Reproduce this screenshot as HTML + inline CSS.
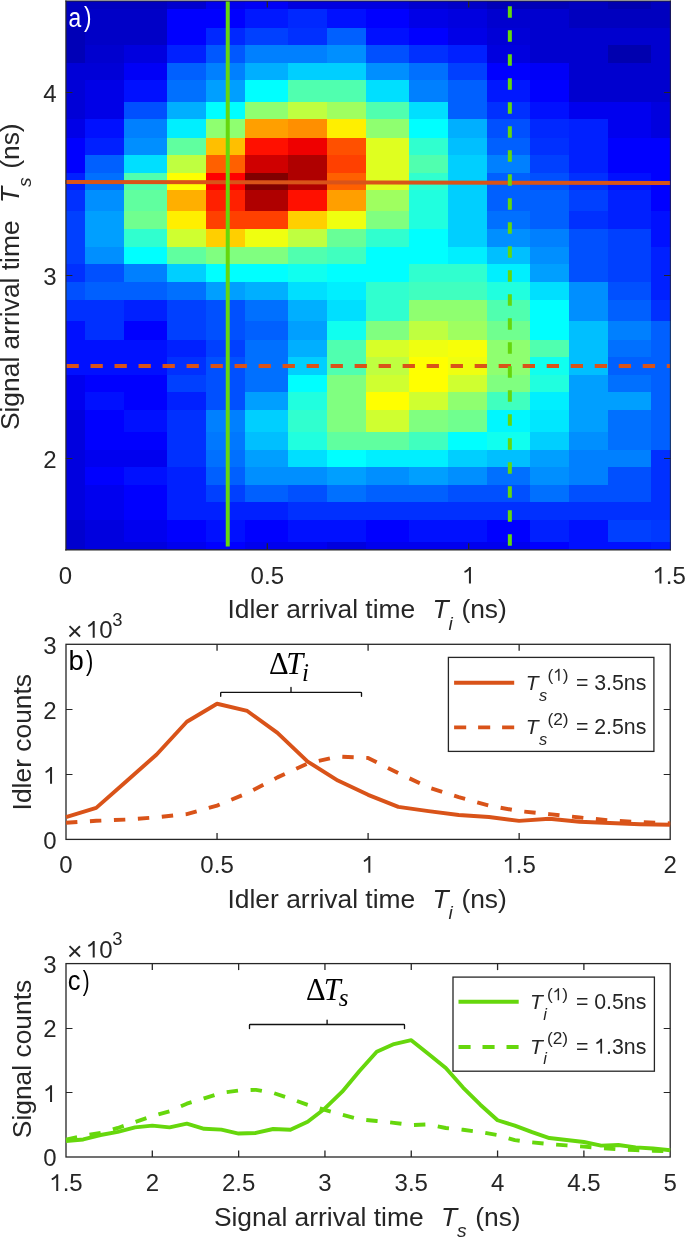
<!DOCTYPE html>
<html><head><meta charset="utf-8"><style>
html,body{margin:0;padding:0;background:#fff;width:685px;height:1238px;overflow:hidden}
svg{display:block;will-change:transform}
</style></head><body>
<svg width="685" height="1238" viewBox="0 0 685 1238">
<g shape-rendering="crispEdges">
<rect x="65.5" y="1" width="20.40" height="8.80" fill="#0000bf"/>
<rect x="85.3" y="1" width="39.30" height="8.80" fill="#0000bf"/>
<rect x="124" y="1" width="43.80" height="8.80" fill="#0000bf"/>
<rect x="167.2" y="1" width="39.30" height="8.80" fill="#0000cf"/>
<rect x="205.9" y="1" width="39.60" height="8.80" fill="#0000ef"/>
<rect x="244.9" y="1" width="44.00" height="8.80" fill="#0000f7"/>
<rect x="288.3" y="1" width="39.10" height="8.80" fill="#0000df"/>
<rect x="326.8" y="1" width="39.50" height="8.80" fill="#0000df"/>
<rect x="365.7" y="1" width="44.00" height="8.80" fill="#0000df"/>
<rect x="409.1" y="1" width="39.60" height="8.80" fill="#0000cf"/>
<rect x="448.1" y="1" width="39.60" height="8.80" fill="#0000c7"/>
<rect x="487.1" y="1" width="43.60" height="8.80" fill="#0000b7"/>
<rect x="530.1" y="1" width="39.50" height="8.80" fill="#0000b7"/>
<rect x="569" y="1" width="39.10" height="8.80" fill="#0000bf"/>
<rect x="607.5" y="1" width="43.70" height="8.80" fill="#0000af"/>
<rect x="650.6" y="1" width="20.20" height="8.80" fill="#0000bf"/>
<rect x="65.5" y="9.2" width="20.40" height="19.00" fill="#0000bf"/>
<rect x="85.3" y="9.2" width="39.30" height="19.00" fill="#0000c7"/>
<rect x="124" y="9.2" width="43.80" height="19.00" fill="#0000c7"/>
<rect x="167.2" y="9.2" width="39.30" height="19.00" fill="#0000ff"/>
<rect x="205.9" y="9.2" width="39.60" height="19.00" fill="#0000ff"/>
<rect x="244.9" y="9.2" width="44.00" height="19.00" fill="#0018ff"/>
<rect x="288.3" y="9.2" width="39.10" height="19.00" fill="#0028ff"/>
<rect x="326.8" y="9.2" width="39.50" height="19.00" fill="#0010ff"/>
<rect x="365.7" y="9.2" width="44.00" height="19.00" fill="#0000ff"/>
<rect x="409.1" y="9.2" width="39.60" height="19.00" fill="#0000e7"/>
<rect x="448.1" y="9.2" width="39.60" height="19.00" fill="#0000df"/>
<rect x="487.1" y="9.2" width="43.60" height="19.00" fill="#0000cf"/>
<rect x="530.1" y="9.2" width="39.50" height="19.00" fill="#0000cf"/>
<rect x="569" y="9.2" width="39.10" height="19.00" fill="#0000bf"/>
<rect x="607.5" y="9.2" width="43.70" height="19.00" fill="#0000bf"/>
<rect x="650.6" y="9.2" width="20.20" height="19.00" fill="#0000bf"/>
<rect x="65.5" y="27.6" width="20.40" height="17.50" fill="#0000b7"/>
<rect x="85.3" y="27.6" width="39.30" height="17.50" fill="#0000c7"/>
<rect x="124" y="27.6" width="43.80" height="17.50" fill="#0000c7"/>
<rect x="167.2" y="27.6" width="39.30" height="17.50" fill="#0000ff"/>
<rect x="205.9" y="27.6" width="39.60" height="17.50" fill="#0028ff"/>
<rect x="244.9" y="27.6" width="44.00" height="17.50" fill="#0040ff"/>
<rect x="288.3" y="27.6" width="39.10" height="17.50" fill="#0030ff"/>
<rect x="326.8" y="27.6" width="39.50" height="17.50" fill="#0060ff"/>
<rect x="365.7" y="27.6" width="44.00" height="17.50" fill="#0010ff"/>
<rect x="409.1" y="27.6" width="39.60" height="17.50" fill="#0000ff"/>
<rect x="448.1" y="27.6" width="39.60" height="17.50" fill="#0000e7"/>
<rect x="487.1" y="27.6" width="43.60" height="17.50" fill="#0000d7"/>
<rect x="530.1" y="27.6" width="39.50" height="17.50" fill="#0000cf"/>
<rect x="569" y="27.6" width="39.10" height="17.50" fill="#0000cf"/>
<rect x="607.5" y="27.6" width="43.70" height="17.50" fill="#0000cf"/>
<rect x="650.6" y="27.6" width="20.20" height="17.50" fill="#0000cf"/>
<rect x="65.5" y="44.5" width="20.40" height="19.00" fill="#0000b7"/>
<rect x="85.3" y="44.5" width="39.30" height="19.00" fill="#0000cf"/>
<rect x="124" y="44.5" width="43.80" height="19.00" fill="#0000df"/>
<rect x="167.2" y="44.5" width="39.30" height="19.00" fill="#0020ff"/>
<rect x="205.9" y="44.5" width="39.60" height="19.00" fill="#0058ff"/>
<rect x="244.9" y="44.5" width="44.00" height="19.00" fill="#0080ff"/>
<rect x="288.3" y="44.5" width="39.10" height="19.00" fill="#0080ff"/>
<rect x="326.8" y="44.5" width="39.50" height="19.00" fill="#008fff"/>
<rect x="365.7" y="44.5" width="44.00" height="19.00" fill="#0050ff"/>
<rect x="409.1" y="44.5" width="39.60" height="19.00" fill="#0030ff"/>
<rect x="448.1" y="44.5" width="39.60" height="19.00" fill="#0020ff"/>
<rect x="487.1" y="44.5" width="43.60" height="19.00" fill="#0000df"/>
<rect x="530.1" y="44.5" width="39.50" height="19.00" fill="#0000cf"/>
<rect x="569" y="44.5" width="39.10" height="19.00" fill="#0000cf"/>
<rect x="607.5" y="44.5" width="43.70" height="19.00" fill="#0000af"/>
<rect x="650.6" y="44.5" width="20.20" height="19.00" fill="#0000cf"/>
<rect x="65.5" y="62.9" width="20.40" height="17.50" fill="#0000d7"/>
<rect x="85.3" y="62.9" width="39.30" height="17.50" fill="#0000d7"/>
<rect x="124" y="62.9" width="43.80" height="17.50" fill="#0000f7"/>
<rect x="167.2" y="62.9" width="39.30" height="17.50" fill="#0060ff"/>
<rect x="205.9" y="62.9" width="39.60" height="17.50" fill="#0080ff"/>
<rect x="244.9" y="62.9" width="44.00" height="17.50" fill="#00afff"/>
<rect x="288.3" y="62.9" width="39.10" height="17.50" fill="#00cfff"/>
<rect x="326.8" y="62.9" width="39.50" height="17.50" fill="#00cfff"/>
<rect x="365.7" y="62.9" width="44.00" height="17.50" fill="#008fff"/>
<rect x="409.1" y="62.9" width="39.60" height="17.50" fill="#0070ff"/>
<rect x="448.1" y="62.9" width="39.60" height="17.50" fill="#0040ff"/>
<rect x="487.1" y="62.9" width="43.60" height="17.50" fill="#0000ff"/>
<rect x="530.1" y="62.9" width="39.50" height="17.50" fill="#0000f7"/>
<rect x="569" y="62.9" width="39.10" height="17.50" fill="#0000cf"/>
<rect x="607.5" y="62.9" width="43.70" height="17.50" fill="#0000cf"/>
<rect x="650.6" y="62.9" width="20.20" height="17.50" fill="#0000cf"/>
<rect x="65.5" y="79.8" width="20.40" height="22.90" fill="#0000d7"/>
<rect x="85.3" y="79.8" width="39.30" height="22.90" fill="#0000e7"/>
<rect x="124" y="79.8" width="43.80" height="22.90" fill="#0010ff"/>
<rect x="167.2" y="79.8" width="39.30" height="22.90" fill="#0070ff"/>
<rect x="205.9" y="79.8" width="39.60" height="22.90" fill="#009fff"/>
<rect x="244.9" y="79.8" width="44.00" height="22.90" fill="#00ffff"/>
<rect x="288.3" y="79.8" width="39.10" height="22.90" fill="#50ffaf"/>
<rect x="326.8" y="79.8" width="39.50" height="22.90" fill="#50ffaf"/>
<rect x="365.7" y="79.8" width="44.00" height="22.90" fill="#00dfff"/>
<rect x="409.1" y="79.8" width="39.60" height="22.90" fill="#0080ff"/>
<rect x="448.1" y="79.8" width="39.60" height="22.90" fill="#0060ff"/>
<rect x="487.1" y="79.8" width="43.60" height="22.90" fill="#0018ff"/>
<rect x="530.1" y="79.8" width="39.50" height="22.90" fill="#0000ff"/>
<rect x="569" y="79.8" width="39.10" height="22.90" fill="#0000cf"/>
<rect x="607.5" y="79.8" width="43.70" height="22.90" fill="#0000cf"/>
<rect x="650.6" y="79.8" width="20.20" height="22.90" fill="#0000cf"/>
<rect x="65.5" y="102.1" width="20.40" height="17.40" fill="#0000d7"/>
<rect x="85.3" y="102.1" width="39.30" height="17.40" fill="#0000e7"/>
<rect x="124" y="102.1" width="43.80" height="17.40" fill="#0050ff"/>
<rect x="167.2" y="102.1" width="39.30" height="17.40" fill="#00afff"/>
<rect x="205.9" y="102.1" width="39.60" height="17.40" fill="#00ffff"/>
<rect x="244.9" y="102.1" width="44.00" height="17.40" fill="#8fff70"/>
<rect x="288.3" y="102.1" width="39.10" height="17.40" fill="#bfff40"/>
<rect x="326.8" y="102.1" width="39.50" height="17.40" fill="#9fff60"/>
<rect x="365.7" y="102.1" width="44.00" height="17.40" fill="#50ffaf"/>
<rect x="409.1" y="102.1" width="39.60" height="17.40" fill="#00dfff"/>
<rect x="448.1" y="102.1" width="39.60" height="17.40" fill="#0060ff"/>
<rect x="487.1" y="102.1" width="43.60" height="17.40" fill="#0030ff"/>
<rect x="530.1" y="102.1" width="39.50" height="17.40" fill="#0010ff"/>
<rect x="569" y="102.1" width="39.10" height="17.40" fill="#0000ef"/>
<rect x="607.5" y="102.1" width="43.70" height="17.40" fill="#0000ef"/>
<rect x="650.6" y="102.1" width="20.20" height="17.40" fill="#0000df"/>
<rect x="65.5" y="118.9" width="20.40" height="19.50" fill="#0000e7"/>
<rect x="85.3" y="118.9" width="39.30" height="19.50" fill="#0010ff"/>
<rect x="124" y="118.9" width="43.80" height="19.50" fill="#0080ff"/>
<rect x="167.2" y="118.9" width="39.30" height="19.50" fill="#00efff"/>
<rect x="205.9" y="118.9" width="39.60" height="19.50" fill="#8fff70"/>
<rect x="244.9" y="118.9" width="44.00" height="19.50" fill="#ff9f00"/>
<rect x="288.3" y="118.9" width="39.10" height="19.50" fill="#ff8f00"/>
<rect x="326.8" y="118.9" width="39.50" height="19.50" fill="#ffef00"/>
<rect x="365.7" y="118.9" width="44.00" height="19.50" fill="#8fff70"/>
<rect x="409.1" y="118.9" width="39.60" height="19.50" fill="#00ffff"/>
<rect x="448.1" y="118.9" width="39.60" height="19.50" fill="#00afff"/>
<rect x="487.1" y="118.9" width="43.60" height="19.50" fill="#0050ff"/>
<rect x="530.1" y="118.9" width="39.50" height="19.50" fill="#0028ff"/>
<rect x="569" y="118.9" width="39.10" height="19.50" fill="#0020ff"/>
<rect x="607.5" y="118.9" width="43.70" height="19.50" fill="#0000ef"/>
<rect x="650.6" y="118.9" width="20.20" height="19.50" fill="#0000df"/>
<rect x="65.5" y="137.8" width="20.40" height="17.60" fill="#0000ff"/>
<rect x="85.3" y="137.8" width="39.30" height="17.60" fill="#0020ff"/>
<rect x="124" y="137.8" width="43.80" height="17.60" fill="#008fff"/>
<rect x="167.2" y="137.8" width="39.30" height="17.60" fill="#60ff9f"/>
<rect x="205.9" y="137.8" width="39.60" height="17.60" fill="#ffbf00"/>
<rect x="244.9" y="137.8" width="44.00" height="17.60" fill="#ff1000"/>
<rect x="288.3" y="137.8" width="39.10" height="17.60" fill="#ef0000"/>
<rect x="326.8" y="137.8" width="39.50" height="17.60" fill="#ff5000"/>
<rect x="365.7" y="137.8" width="44.00" height="17.60" fill="#dfff20"/>
<rect x="409.1" y="137.8" width="39.60" height="17.60" fill="#30ffcf"/>
<rect x="448.1" y="137.8" width="39.60" height="17.60" fill="#00bfff"/>
<rect x="487.1" y="137.8" width="43.60" height="17.60" fill="#0060ff"/>
<rect x="530.1" y="137.8" width="39.50" height="17.60" fill="#0030ff"/>
<rect x="569" y="137.8" width="39.10" height="17.60" fill="#0020ff"/>
<rect x="607.5" y="137.8" width="43.70" height="17.60" fill="#0000ff"/>
<rect x="650.6" y="137.8" width="20.20" height="17.60" fill="#0000ff"/>
<rect x="65.5" y="154.8" width="20.40" height="18.50" fill="#0000ff"/>
<rect x="85.3" y="154.8" width="39.30" height="18.50" fill="#0060ff"/>
<rect x="124" y="154.8" width="43.80" height="18.50" fill="#00dfff"/>
<rect x="167.2" y="154.8" width="39.30" height="18.50" fill="#bfff40"/>
<rect x="205.9" y="154.8" width="39.60" height="18.50" fill="#ff6000"/>
<rect x="244.9" y="154.8" width="44.00" height="18.50" fill="#cf0000"/>
<rect x="288.3" y="154.8" width="39.10" height="18.50" fill="#af0000"/>
<rect x="326.8" y="154.8" width="39.50" height="18.50" fill="#ff4000"/>
<rect x="365.7" y="154.8" width="44.00" height="18.50" fill="#dfff20"/>
<rect x="409.1" y="154.8" width="39.60" height="18.50" fill="#50ffaf"/>
<rect x="448.1" y="154.8" width="39.60" height="18.50" fill="#00cfff"/>
<rect x="487.1" y="154.8" width="43.60" height="18.50" fill="#0080ff"/>
<rect x="530.1" y="154.8" width="39.50" height="18.50" fill="#0040ff"/>
<rect x="569" y="154.8" width="39.10" height="18.50" fill="#0020ff"/>
<rect x="607.5" y="154.8" width="43.70" height="18.50" fill="#0000ff"/>
<rect x="650.6" y="154.8" width="20.20" height="18.50" fill="#0000ff"/>
<rect x="65.5" y="172.7" width="20.40" height="17.60" fill="#0020ff"/>
<rect x="85.3" y="172.7" width="39.30" height="17.60" fill="#0070ff"/>
<rect x="124" y="172.7" width="43.80" height="17.60" fill="#50ffaf"/>
<rect x="167.2" y="172.7" width="39.30" height="17.60" fill="#ffff00"/>
<rect x="205.9" y="172.7" width="39.60" height="17.60" fill="#ff0000"/>
<rect x="244.9" y="172.7" width="44.00" height="17.60" fill="#800000"/>
<rect x="288.3" y="172.7" width="39.10" height="17.60" fill="#af0000"/>
<rect x="326.8" y="172.7" width="39.50" height="17.60" fill="#ff6000"/>
<rect x="365.7" y="172.7" width="44.00" height="17.60" fill="#dfff20"/>
<rect x="409.1" y="172.7" width="39.60" height="17.60" fill="#30ffcf"/>
<rect x="448.1" y="172.7" width="39.60" height="17.60" fill="#00cfff"/>
<rect x="487.1" y="172.7" width="43.60" height="17.60" fill="#0060ff"/>
<rect x="530.1" y="172.7" width="39.50" height="17.60" fill="#0050ff"/>
<rect x="569" y="172.7" width="39.10" height="17.60" fill="#0030ff"/>
<rect x="607.5" y="172.7" width="43.70" height="17.60" fill="#0010ff"/>
<rect x="650.6" y="172.7" width="20.20" height="17.60" fill="#0000ff"/>
<rect x="65.5" y="189.7" width="20.40" height="22.10" fill="#0030ff"/>
<rect x="85.3" y="189.7" width="39.30" height="22.10" fill="#008fff"/>
<rect x="124" y="189.7" width="43.80" height="22.10" fill="#60ff9f"/>
<rect x="167.2" y="189.7" width="39.30" height="22.10" fill="#ffaf00"/>
<rect x="205.9" y="189.7" width="39.60" height="22.10" fill="#ff2000"/>
<rect x="244.9" y="189.7" width="44.00" height="22.10" fill="#af0000"/>
<rect x="288.3" y="189.7" width="39.10" height="22.10" fill="#ff1000"/>
<rect x="326.8" y="189.7" width="39.50" height="22.10" fill="#ff9f00"/>
<rect x="365.7" y="189.7" width="44.00" height="22.10" fill="#9fff60"/>
<rect x="409.1" y="189.7" width="39.60" height="22.10" fill="#20ffdf"/>
<rect x="448.1" y="189.7" width="39.60" height="22.10" fill="#00cfff"/>
<rect x="487.1" y="189.7" width="43.60" height="22.10" fill="#0060ff"/>
<rect x="530.1" y="189.7" width="39.50" height="22.10" fill="#0060ff"/>
<rect x="569" y="189.7" width="39.10" height="22.10" fill="#0040ff"/>
<rect x="607.5" y="189.7" width="43.70" height="22.10" fill="#0020ff"/>
<rect x="650.6" y="189.7" width="20.20" height="22.10" fill="#0000ff"/>
<rect x="65.5" y="211.2" width="20.40" height="18.70" fill="#0040ff"/>
<rect x="85.3" y="211.2" width="39.30" height="18.70" fill="#009fff"/>
<rect x="124" y="211.2" width="43.80" height="18.70" fill="#70ff8f"/>
<rect x="167.2" y="211.2" width="39.30" height="18.70" fill="#ffef00"/>
<rect x="205.9" y="211.2" width="39.60" height="18.70" fill="#ff4000"/>
<rect x="244.9" y="211.2" width="44.00" height="18.70" fill="#ff4000"/>
<rect x="288.3" y="211.2" width="39.10" height="18.70" fill="#ffcf00"/>
<rect x="326.8" y="211.2" width="39.50" height="18.70" fill="#efff10"/>
<rect x="365.7" y="211.2" width="44.00" height="18.70" fill="#80ff80"/>
<rect x="409.1" y="211.2" width="39.60" height="18.70" fill="#20ffdf"/>
<rect x="448.1" y="211.2" width="39.60" height="18.70" fill="#00cfff"/>
<rect x="487.1" y="211.2" width="43.60" height="18.70" fill="#0070ff"/>
<rect x="530.1" y="211.2" width="39.50" height="18.70" fill="#0060ff"/>
<rect x="569" y="211.2" width="39.10" height="18.70" fill="#0030ff"/>
<rect x="607.5" y="211.2" width="43.70" height="18.70" fill="#0020ff"/>
<rect x="650.6" y="211.2" width="20.20" height="18.70" fill="#0010ff"/>
<rect x="65.5" y="229.3" width="20.40" height="18.10" fill="#0040ff"/>
<rect x="85.3" y="229.3" width="39.30" height="18.10" fill="#009fff"/>
<rect x="124" y="229.3" width="43.80" height="18.10" fill="#30ffcf"/>
<rect x="167.2" y="229.3" width="39.30" height="18.10" fill="#cfff30"/>
<rect x="205.9" y="229.3" width="39.60" height="18.10" fill="#ffcf00"/>
<rect x="244.9" y="229.3" width="44.00" height="18.10" fill="#efff10"/>
<rect x="288.3" y="229.3" width="39.10" height="18.10" fill="#bfff40"/>
<rect x="326.8" y="229.3" width="39.50" height="18.10" fill="#68ff97"/>
<rect x="365.7" y="229.3" width="44.00" height="18.10" fill="#30ffcf"/>
<rect x="409.1" y="229.3" width="39.60" height="18.10" fill="#00ffff"/>
<rect x="448.1" y="229.3" width="39.60" height="18.10" fill="#00cfff"/>
<rect x="487.1" y="229.3" width="43.60" height="18.10" fill="#008fff"/>
<rect x="530.1" y="229.3" width="39.50" height="18.10" fill="#0080ff"/>
<rect x="569" y="229.3" width="39.10" height="18.10" fill="#0050ff"/>
<rect x="607.5" y="229.3" width="43.70" height="18.10" fill="#0040ff"/>
<rect x="650.6" y="229.3" width="20.20" height="18.10" fill="#0010ff"/>
<rect x="65.5" y="246.8" width="20.40" height="18.20" fill="#0040ff"/>
<rect x="85.3" y="246.8" width="39.30" height="18.20" fill="#008fff"/>
<rect x="124" y="246.8" width="43.80" height="18.20" fill="#00ffff"/>
<rect x="167.2" y="246.8" width="39.30" height="18.20" fill="#60ff9f"/>
<rect x="205.9" y="246.8" width="39.60" height="18.20" fill="#80ff80"/>
<rect x="244.9" y="246.8" width="44.00" height="18.20" fill="#80ff80"/>
<rect x="288.3" y="246.8" width="39.10" height="18.20" fill="#50ffaf"/>
<rect x="326.8" y="246.8" width="39.50" height="18.20" fill="#40ffbf"/>
<rect x="365.7" y="246.8" width="44.00" height="18.20" fill="#00ffff"/>
<rect x="409.1" y="246.8" width="39.60" height="18.20" fill="#00ffff"/>
<rect x="448.1" y="246.8" width="39.60" height="18.20" fill="#00efff"/>
<rect x="487.1" y="246.8" width="43.60" height="18.20" fill="#00bfff"/>
<rect x="530.1" y="246.8" width="39.50" height="18.20" fill="#008fff"/>
<rect x="569" y="246.8" width="39.10" height="18.20" fill="#0050ff"/>
<rect x="607.5" y="246.8" width="43.70" height="18.20" fill="#0040ff"/>
<rect x="650.6" y="246.8" width="20.20" height="18.20" fill="#0020ff"/>
<rect x="65.5" y="264.4" width="20.40" height="18.30" fill="#0030ff"/>
<rect x="85.3" y="264.4" width="39.30" height="18.30" fill="#0050ff"/>
<rect x="124" y="264.4" width="43.80" height="18.30" fill="#0080ff"/>
<rect x="167.2" y="264.4" width="39.30" height="18.30" fill="#00cfff"/>
<rect x="205.9" y="264.4" width="39.60" height="18.30" fill="#00ffff"/>
<rect x="244.9" y="264.4" width="44.00" height="18.30" fill="#00ffff"/>
<rect x="288.3" y="264.4" width="39.10" height="18.30" fill="#10ffef"/>
<rect x="326.8" y="264.4" width="39.50" height="18.30" fill="#00ffff"/>
<rect x="365.7" y="264.4" width="44.00" height="18.30" fill="#00ffff"/>
<rect x="409.1" y="264.4" width="39.60" height="18.30" fill="#30ffcf"/>
<rect x="448.1" y="264.4" width="39.60" height="18.30" fill="#30ffcf"/>
<rect x="487.1" y="264.4" width="43.60" height="18.30" fill="#00efff"/>
<rect x="530.1" y="264.4" width="39.50" height="18.30" fill="#009fff"/>
<rect x="569" y="264.4" width="39.10" height="18.30" fill="#0050ff"/>
<rect x="607.5" y="264.4" width="43.70" height="18.30" fill="#0040ff"/>
<rect x="650.6" y="264.4" width="20.20" height="18.30" fill="#0020ff"/>
<rect x="65.5" y="282.1" width="20.40" height="18.20" fill="#0050ff"/>
<rect x="85.3" y="282.1" width="39.30" height="18.20" fill="#0060ff"/>
<rect x="124" y="282.1" width="43.80" height="18.20" fill="#0060ff"/>
<rect x="167.2" y="282.1" width="39.30" height="18.20" fill="#0070ff"/>
<rect x="205.9" y="282.1" width="39.60" height="18.20" fill="#009fff"/>
<rect x="244.9" y="282.1" width="44.00" height="18.20" fill="#00afff"/>
<rect x="288.3" y="282.1" width="39.10" height="18.20" fill="#00dfff"/>
<rect x="326.8" y="282.1" width="39.50" height="18.20" fill="#00efff"/>
<rect x="365.7" y="282.1" width="44.00" height="18.20" fill="#30ffcf"/>
<rect x="409.1" y="282.1" width="39.60" height="18.20" fill="#40ffbf"/>
<rect x="448.1" y="282.1" width="39.60" height="18.20" fill="#40ffbf"/>
<rect x="487.1" y="282.1" width="43.60" height="18.20" fill="#20ffdf"/>
<rect x="530.1" y="282.1" width="39.50" height="18.20" fill="#00dfff"/>
<rect x="569" y="282.1" width="39.10" height="18.20" fill="#008fff"/>
<rect x="607.5" y="282.1" width="43.70" height="18.20" fill="#0050ff"/>
<rect x="650.6" y="282.1" width="20.20" height="18.20" fill="#0020ff"/>
<rect x="65.5" y="299.7" width="20.40" height="21.80" fill="#0030ff"/>
<rect x="85.3" y="299.7" width="39.30" height="21.80" fill="#0030ff"/>
<rect x="124" y="299.7" width="43.80" height="21.80" fill="#0020ff"/>
<rect x="167.2" y="299.7" width="39.30" height="21.80" fill="#0040ff"/>
<rect x="205.9" y="299.7" width="39.60" height="21.80" fill="#0050ff"/>
<rect x="244.9" y="299.7" width="44.00" height="21.80" fill="#0070ff"/>
<rect x="288.3" y="299.7" width="39.10" height="21.80" fill="#00afff"/>
<rect x="326.8" y="299.7" width="39.50" height="21.80" fill="#00dfff"/>
<rect x="365.7" y="299.7" width="44.00" height="21.80" fill="#30ffcf"/>
<rect x="409.1" y="299.7" width="39.60" height="21.80" fill="#8fff70"/>
<rect x="448.1" y="299.7" width="39.60" height="21.80" fill="#8fff70"/>
<rect x="487.1" y="299.7" width="43.60" height="21.80" fill="#50ffaf"/>
<rect x="530.1" y="299.7" width="39.50" height="21.80" fill="#00ffff"/>
<rect x="569" y="299.7" width="39.10" height="21.80" fill="#008fff"/>
<rect x="607.5" y="299.7" width="43.70" height="21.80" fill="#0060ff"/>
<rect x="650.6" y="299.7" width="20.20" height="21.80" fill="#0030ff"/>
<rect x="65.5" y="320.9" width="20.40" height="19.30" fill="#0010ff"/>
<rect x="85.3" y="320.9" width="39.30" height="19.30" fill="#0030ff"/>
<rect x="124" y="320.9" width="43.80" height="19.30" fill="#0000ff"/>
<rect x="167.2" y="320.9" width="39.30" height="19.30" fill="#0040ff"/>
<rect x="205.9" y="320.9" width="39.60" height="19.30" fill="#0050ff"/>
<rect x="244.9" y="320.9" width="44.00" height="19.30" fill="#0060ff"/>
<rect x="288.3" y="320.9" width="39.10" height="19.30" fill="#009fff"/>
<rect x="326.8" y="320.9" width="39.50" height="19.30" fill="#10ffef"/>
<rect x="365.7" y="320.9" width="44.00" height="19.30" fill="#80ff80"/>
<rect x="409.1" y="320.9" width="39.60" height="19.30" fill="#bfff40"/>
<rect x="448.1" y="320.9" width="39.60" height="19.30" fill="#9fff60"/>
<rect x="487.1" y="320.9" width="43.60" height="19.30" fill="#70ff8f"/>
<rect x="530.1" y="320.9" width="39.50" height="19.30" fill="#00ffff"/>
<rect x="569" y="320.9" width="39.10" height="19.30" fill="#00bfff"/>
<rect x="607.5" y="320.9" width="43.70" height="19.30" fill="#0080ff"/>
<rect x="650.6" y="320.9" width="20.20" height="19.30" fill="#0060ff"/>
<rect x="65.5" y="339.6" width="20.40" height="18.30" fill="#0010ff"/>
<rect x="85.3" y="339.6" width="39.30" height="18.30" fill="#0010ff"/>
<rect x="124" y="339.6" width="43.80" height="18.30" fill="#0010ff"/>
<rect x="167.2" y="339.6" width="39.30" height="18.30" fill="#0020ff"/>
<rect x="205.9" y="339.6" width="39.60" height="18.30" fill="#0040ff"/>
<rect x="244.9" y="339.6" width="44.00" height="18.30" fill="#0070ff"/>
<rect x="288.3" y="339.6" width="39.10" height="18.30" fill="#00afff"/>
<rect x="326.8" y="339.6" width="39.50" height="18.30" fill="#50ffaf"/>
<rect x="365.7" y="339.6" width="44.00" height="18.30" fill="#d7ff28"/>
<rect x="409.1" y="339.6" width="39.60" height="18.30" fill="#efff10"/>
<rect x="448.1" y="339.6" width="39.60" height="18.30" fill="#f7ff08"/>
<rect x="487.1" y="339.6" width="43.60" height="18.30" fill="#8fff70"/>
<rect x="530.1" y="339.6" width="39.50" height="18.30" fill="#50ffaf"/>
<rect x="569" y="339.6" width="39.10" height="18.30" fill="#00bfff"/>
<rect x="607.5" y="339.6" width="43.70" height="18.30" fill="#0070ff"/>
<rect x="650.6" y="339.6" width="20.20" height="18.30" fill="#0060ff"/>
<rect x="65.5" y="357.3" width="20.40" height="17.90" fill="#0010ff"/>
<rect x="85.3" y="357.3" width="39.30" height="17.90" fill="#0010ff"/>
<rect x="124" y="357.3" width="43.80" height="17.90" fill="#0010ff"/>
<rect x="167.2" y="357.3" width="39.30" height="17.90" fill="#0030ff"/>
<rect x="205.9" y="357.3" width="39.60" height="17.90" fill="#0050ff"/>
<rect x="244.9" y="357.3" width="44.00" height="17.90" fill="#0070ff"/>
<rect x="288.3" y="357.3" width="39.10" height="17.90" fill="#00cfff"/>
<rect x="326.8" y="357.3" width="39.50" height="17.90" fill="#50ffaf"/>
<rect x="365.7" y="357.3" width="44.00" height="17.90" fill="#bfff40"/>
<rect x="409.1" y="357.3" width="39.60" height="17.90" fill="#ffff00"/>
<rect x="448.1" y="357.3" width="39.60" height="17.90" fill="#efff10"/>
<rect x="487.1" y="357.3" width="43.60" height="17.90" fill="#8fff70"/>
<rect x="530.1" y="357.3" width="39.50" height="17.90" fill="#10ffef"/>
<rect x="569" y="357.3" width="39.10" height="17.90" fill="#00bfff"/>
<rect x="607.5" y="357.3" width="43.70" height="17.90" fill="#0060ff"/>
<rect x="650.6" y="357.3" width="20.20" height="17.90" fill="#0060ff"/>
<rect x="65.5" y="374.6" width="20.40" height="17.50" fill="#0000ef"/>
<rect x="85.3" y="374.6" width="39.30" height="17.50" fill="#0000ff"/>
<rect x="124" y="374.6" width="43.80" height="17.50" fill="#0000ff"/>
<rect x="167.2" y="374.6" width="39.30" height="17.50" fill="#0040ff"/>
<rect x="205.9" y="374.6" width="39.60" height="17.50" fill="#0050ff"/>
<rect x="244.9" y="374.6" width="44.00" height="17.50" fill="#0070ff"/>
<rect x="288.3" y="374.6" width="39.10" height="17.50" fill="#00ffff"/>
<rect x="326.8" y="374.6" width="39.50" height="17.50" fill="#80ff80"/>
<rect x="365.7" y="374.6" width="44.00" height="17.50" fill="#cfff30"/>
<rect x="409.1" y="374.6" width="39.60" height="17.50" fill="#ffff00"/>
<rect x="448.1" y="374.6" width="39.60" height="17.50" fill="#cfff30"/>
<rect x="487.1" y="374.6" width="43.60" height="17.50" fill="#80ff80"/>
<rect x="530.1" y="374.6" width="39.50" height="17.50" fill="#20ffdf"/>
<rect x="569" y="374.6" width="39.10" height="17.50" fill="#009fff"/>
<rect x="607.5" y="374.6" width="43.70" height="17.50" fill="#0070ff"/>
<rect x="650.6" y="374.6" width="20.20" height="17.50" fill="#0060ff"/>
<rect x="65.5" y="391.5" width="20.40" height="19.00" fill="#0000ef"/>
<rect x="85.3" y="391.5" width="39.30" height="19.00" fill="#0010ff"/>
<rect x="124" y="391.5" width="43.80" height="19.00" fill="#0000ff"/>
<rect x="167.2" y="391.5" width="39.30" height="19.00" fill="#0020ff"/>
<rect x="205.9" y="391.5" width="39.60" height="19.00" fill="#0050ff"/>
<rect x="244.9" y="391.5" width="44.00" height="19.00" fill="#009fff"/>
<rect x="288.3" y="391.5" width="39.10" height="19.00" fill="#20ffdf"/>
<rect x="326.8" y="391.5" width="39.50" height="19.00" fill="#80ff80"/>
<rect x="365.7" y="391.5" width="44.00" height="19.00" fill="#ffff00"/>
<rect x="409.1" y="391.5" width="39.60" height="19.00" fill="#cfff30"/>
<rect x="448.1" y="391.5" width="39.60" height="19.00" fill="#8fff70"/>
<rect x="487.1" y="391.5" width="43.60" height="19.00" fill="#40ffbf"/>
<rect x="530.1" y="391.5" width="39.50" height="19.00" fill="#00efff"/>
<rect x="569" y="391.5" width="39.10" height="19.00" fill="#009fff"/>
<rect x="607.5" y="391.5" width="43.70" height="19.00" fill="#009fff"/>
<rect x="650.6" y="391.5" width="20.20" height="19.00" fill="#0060ff"/>
<rect x="65.5" y="409.9" width="20.40" height="22.30" fill="#0000df"/>
<rect x="85.3" y="409.9" width="39.30" height="22.30" fill="#0000ff"/>
<rect x="124" y="409.9" width="43.80" height="22.30" fill="#0010ff"/>
<rect x="167.2" y="409.9" width="39.30" height="22.30" fill="#0030ff"/>
<rect x="205.9" y="409.9" width="39.60" height="22.30" fill="#0080ff"/>
<rect x="244.9" y="409.9" width="44.00" height="22.30" fill="#00cfff"/>
<rect x="288.3" y="409.9" width="39.10" height="22.30" fill="#30ffcf"/>
<rect x="326.8" y="409.9" width="39.50" height="22.30" fill="#80ff80"/>
<rect x="365.7" y="409.9" width="44.00" height="22.30" fill="#cfff30"/>
<rect x="409.1" y="409.9" width="39.60" height="22.30" fill="#80ff80"/>
<rect x="448.1" y="409.9" width="39.60" height="22.30" fill="#70ff8f"/>
<rect x="487.1" y="409.9" width="43.60" height="22.30" fill="#00f7ff"/>
<rect x="530.1" y="409.9" width="39.50" height="22.30" fill="#00e7ff"/>
<rect x="569" y="409.9" width="39.10" height="22.30" fill="#009fff"/>
<rect x="607.5" y="409.9" width="43.70" height="22.30" fill="#0070ff"/>
<rect x="650.6" y="409.9" width="20.20" height="22.30" fill="#0060ff"/>
<rect x="65.5" y="431.6" width="20.40" height="18.80" fill="#0000df"/>
<rect x="85.3" y="431.6" width="39.30" height="18.80" fill="#0000ff"/>
<rect x="124" y="431.6" width="43.80" height="18.80" fill="#0000ff"/>
<rect x="167.2" y="431.6" width="39.30" height="18.80" fill="#0030ff"/>
<rect x="205.9" y="431.6" width="39.60" height="18.80" fill="#0078ff"/>
<rect x="244.9" y="431.6" width="44.00" height="18.80" fill="#00bfff"/>
<rect x="288.3" y="431.6" width="39.10" height="18.80" fill="#20ffdf"/>
<rect x="326.8" y="431.6" width="39.50" height="18.80" fill="#60ff9f"/>
<rect x="365.7" y="431.6" width="44.00" height="18.80" fill="#60ff9f"/>
<rect x="409.1" y="431.6" width="39.60" height="18.80" fill="#40ffbf"/>
<rect x="448.1" y="431.6" width="39.60" height="18.80" fill="#00ffff"/>
<rect x="487.1" y="431.6" width="43.60" height="18.80" fill="#10ffef"/>
<rect x="530.1" y="431.6" width="39.50" height="18.80" fill="#00cfff"/>
<rect x="569" y="431.6" width="39.10" height="18.80" fill="#008fff"/>
<rect x="607.5" y="431.6" width="43.70" height="18.80" fill="#0070ff"/>
<rect x="650.6" y="431.6" width="20.20" height="18.80" fill="#0060ff"/>
<rect x="65.5" y="449.8" width="20.40" height="17.50" fill="#0000df"/>
<rect x="85.3" y="449.8" width="39.30" height="17.50" fill="#0000ef"/>
<rect x="124" y="449.8" width="43.80" height="17.50" fill="#0000ef"/>
<rect x="167.2" y="449.8" width="39.30" height="17.50" fill="#0030ff"/>
<rect x="205.9" y="449.8" width="39.60" height="17.50" fill="#0070ff"/>
<rect x="244.9" y="449.8" width="44.00" height="17.50" fill="#009fff"/>
<rect x="288.3" y="449.8" width="39.10" height="17.50" fill="#00dfff"/>
<rect x="326.8" y="449.8" width="39.50" height="17.50" fill="#00ffff"/>
<rect x="365.7" y="449.8" width="44.00" height="17.50" fill="#00efff"/>
<rect x="409.1" y="449.8" width="39.60" height="17.50" fill="#00efff"/>
<rect x="448.1" y="449.8" width="39.60" height="17.50" fill="#00cfff"/>
<rect x="487.1" y="449.8" width="43.60" height="17.50" fill="#00bfff"/>
<rect x="530.1" y="449.8" width="39.50" height="17.50" fill="#009fff"/>
<rect x="569" y="449.8" width="39.10" height="17.50" fill="#0080ff"/>
<rect x="607.5" y="449.8" width="43.70" height="17.50" fill="#0080ff"/>
<rect x="650.6" y="449.8" width="20.20" height="17.50" fill="#0030ff"/>
<rect x="65.5" y="466.7" width="20.40" height="18.50" fill="#0000df"/>
<rect x="85.3" y="466.7" width="39.30" height="18.50" fill="#0000ff"/>
<rect x="124" y="466.7" width="43.80" height="18.50" fill="#0010ff"/>
<rect x="167.2" y="466.7" width="39.30" height="18.50" fill="#0020ff"/>
<rect x="205.9" y="466.7" width="39.60" height="18.50" fill="#0060ff"/>
<rect x="244.9" y="466.7" width="44.00" height="18.50" fill="#008fff"/>
<rect x="288.3" y="466.7" width="39.10" height="18.50" fill="#008fff"/>
<rect x="326.8" y="466.7" width="39.50" height="18.50" fill="#009fff"/>
<rect x="365.7" y="466.7" width="44.00" height="18.50" fill="#008fff"/>
<rect x="409.1" y="466.7" width="39.60" height="18.50" fill="#009fff"/>
<rect x="448.1" y="466.7" width="39.60" height="18.50" fill="#008fff"/>
<rect x="487.1" y="466.7" width="43.60" height="18.50" fill="#0070ff"/>
<rect x="530.1" y="466.7" width="39.50" height="18.50" fill="#008fff"/>
<rect x="569" y="466.7" width="39.10" height="18.50" fill="#0080ff"/>
<rect x="607.5" y="466.7" width="43.70" height="18.50" fill="#0050ff"/>
<rect x="650.6" y="466.7" width="20.20" height="18.50" fill="#0030ff"/>
<rect x="65.5" y="484.6" width="20.40" height="17.50" fill="#0000df"/>
<rect x="85.3" y="484.6" width="39.30" height="17.50" fill="#0000ef"/>
<rect x="124" y="484.6" width="43.80" height="17.50" fill="#0000ff"/>
<rect x="167.2" y="484.6" width="39.30" height="17.50" fill="#0020ff"/>
<rect x="205.9" y="484.6" width="39.60" height="17.50" fill="#0040ff"/>
<rect x="244.9" y="484.6" width="44.00" height="17.50" fill="#0060ff"/>
<rect x="288.3" y="484.6" width="39.10" height="17.50" fill="#0050ff"/>
<rect x="326.8" y="484.6" width="39.50" height="17.50" fill="#0070ff"/>
<rect x="365.7" y="484.6" width="44.00" height="17.50" fill="#0060ff"/>
<rect x="409.1" y="484.6" width="39.60" height="17.50" fill="#0060ff"/>
<rect x="448.1" y="484.6" width="39.60" height="17.50" fill="#0050ff"/>
<rect x="487.1" y="484.6" width="43.60" height="17.50" fill="#0050ff"/>
<rect x="530.1" y="484.6" width="39.50" height="17.50" fill="#0070ff"/>
<rect x="569" y="484.6" width="39.10" height="17.50" fill="#0050ff"/>
<rect x="607.5" y="484.6" width="43.70" height="17.50" fill="#0050ff"/>
<rect x="650.6" y="484.6" width="20.20" height="17.50" fill="#0030ff"/>
<rect x="65.5" y="501.5" width="20.40" height="18.70" fill="#0000df"/>
<rect x="85.3" y="501.5" width="39.30" height="18.70" fill="#0000ef"/>
<rect x="124" y="501.5" width="43.80" height="18.70" fill="#0000ff"/>
<rect x="167.2" y="501.5" width="39.30" height="18.70" fill="#0020ff"/>
<rect x="205.9" y="501.5" width="39.60" height="18.70" fill="#0020ff"/>
<rect x="244.9" y="501.5" width="44.00" height="18.70" fill="#0020ff"/>
<rect x="288.3" y="501.5" width="39.10" height="18.70" fill="#0030ff"/>
<rect x="326.8" y="501.5" width="39.50" height="18.70" fill="#0030ff"/>
<rect x="365.7" y="501.5" width="44.00" height="18.70" fill="#0030ff"/>
<rect x="409.1" y="501.5" width="39.60" height="18.70" fill="#0030ff"/>
<rect x="448.1" y="501.5" width="39.60" height="18.70" fill="#0030ff"/>
<rect x="487.1" y="501.5" width="43.60" height="18.70" fill="#0030ff"/>
<rect x="530.1" y="501.5" width="39.50" height="18.70" fill="#0030ff"/>
<rect x="569" y="501.5" width="39.10" height="18.70" fill="#0030ff"/>
<rect x="607.5" y="501.5" width="43.70" height="18.70" fill="#0030ff"/>
<rect x="650.6" y="501.5" width="20.20" height="18.70" fill="#0030ff"/>
<rect x="65.5" y="519.6" width="20.40" height="23.00" fill="#0000cf"/>
<rect x="85.3" y="519.6" width="39.30" height="23.00" fill="#0000df"/>
<rect x="124" y="519.6" width="43.80" height="23.00" fill="#0000ef"/>
<rect x="167.2" y="519.6" width="39.30" height="23.00" fill="#0000ff"/>
<rect x="205.9" y="519.6" width="39.60" height="23.00" fill="#0010ff"/>
<rect x="244.9" y="519.6" width="44.00" height="23.00" fill="#0000ff"/>
<rect x="288.3" y="519.6" width="39.10" height="23.00" fill="#0010ff"/>
<rect x="326.8" y="519.6" width="39.50" height="23.00" fill="#0010ff"/>
<rect x="365.7" y="519.6" width="44.00" height="23.00" fill="#0000ff"/>
<rect x="409.1" y="519.6" width="39.60" height="23.00" fill="#0010ff"/>
<rect x="448.1" y="519.6" width="39.60" height="23.00" fill="#0010ff"/>
<rect x="487.1" y="519.6" width="43.60" height="23.00" fill="#0000ff"/>
<rect x="530.1" y="519.6" width="39.50" height="23.00" fill="#0020ff"/>
<rect x="569" y="519.6" width="39.10" height="23.00" fill="#0010ff"/>
<rect x="607.5" y="519.6" width="43.70" height="23.00" fill="#0040ff"/>
<rect x="650.6" y="519.6" width="20.20" height="23.00" fill="#0038ff"/>
<rect x="65.5" y="542.0" width="20.40" height="7.80" fill="#0000cf"/>
<rect x="85.3" y="542.0" width="39.30" height="7.80" fill="#0000df"/>
<rect x="124" y="542.0" width="43.80" height="7.80" fill="#0000df"/>
<rect x="167.2" y="542.0" width="39.30" height="7.80" fill="#0000ef"/>
<rect x="205.9" y="542.0" width="39.60" height="7.80" fill="#0000ff"/>
<rect x="244.9" y="542.0" width="44.00" height="7.80" fill="#0000ef"/>
<rect x="288.3" y="542.0" width="39.10" height="7.80" fill="#0000ef"/>
<rect x="326.8" y="542.0" width="39.50" height="7.80" fill="#0000df"/>
<rect x="365.7" y="542.0" width="44.00" height="7.80" fill="#0000ef"/>
<rect x="409.1" y="542.0" width="39.60" height="7.80" fill="#0000ef"/>
<rect x="448.1" y="542.0" width="39.60" height="7.80" fill="#0000ef"/>
<rect x="487.1" y="542.0" width="43.60" height="7.80" fill="#0000ef"/>
<rect x="530.1" y="542.0" width="39.50" height="7.80" fill="#0000ff"/>
<rect x="569" y="542.0" width="39.10" height="7.80" fill="#0010ff"/>
<rect x="607.5" y="542.0" width="43.70" height="7.80" fill="#0010ff"/>
<rect x="650.6" y="542.0" width="20.20" height="7.80" fill="#0018ff"/>
</g>
<line x1="65.5" y1="181.92" x2="670.2" y2="183.1" stroke="#d95319" stroke-width="4.0"/>
<line x1="66.5" y1="366.1" x2="670.2" y2="366.1" stroke="#d95319" stroke-width="4.0" stroke-dasharray="12.3 11.71"/>
<line x1="227.75" y1="1" x2="227.75" y2="546.5" stroke="#66d70c" stroke-width="4.0"/>
<line x1="509.85" y1="6.2" x2="509.85" y2="547" stroke="#66d70c" stroke-width="4.0" stroke-dasharray="11.6 12.4"/>
<line x1="65.3" y1="1.0" x2="671.0" y2="1.0" stroke="#262626" stroke-width="1.1"/>
<line x1="65.3" y1="549.8" x2="671.0" y2="549.8" stroke="#262626" stroke-width="1.2"/>
<line x1="65.9" y1="0.45" x2="65.9" y2="550.4" stroke="#262626" stroke-width="1.2"/>
<line x1="670.35" y1="0.45" x2="670.35" y2="550.4" stroke="#262626" stroke-width="0.75"/>
<line x1="267.30" y1="549.8" x2="267.30" y2="543.3" stroke="#262626" stroke-width="1.3"/>
<line x1="267.30" y1="1.0" x2="267.30" y2="7.5" stroke="#262626" stroke-width="1.3"/>
<line x1="468.70" y1="549.8" x2="468.70" y2="543.3" stroke="#262626" stroke-width="1.3"/>
<line x1="468.70" y1="1.0" x2="468.70" y2="7.5" stroke="#262626" stroke-width="1.3"/>
<line x1="65.9" y1="92.50" x2="72.4" y2="92.50" stroke="#262626" stroke-width="1.0"/>
<line x1="670.5" y1="92.50" x2="664.0" y2="92.50" stroke="#262626" stroke-width="1.0"/>
<line x1="65.9" y1="275.50" x2="72.4" y2="275.50" stroke="#262626" stroke-width="1.0"/>
<line x1="670.5" y1="275.50" x2="664.0" y2="275.50" stroke="#262626" stroke-width="1.0"/>
<line x1="65.9" y1="458.50" x2="72.4" y2="458.50" stroke="#262626" stroke-width="1.0"/>
<line x1="670.5" y1="458.50" x2="664.0" y2="458.50" stroke="#262626" stroke-width="1.0"/>
<text x="65.50" y="583.60" font-family='"Liberation Sans", sans-serif' font-size="24" fill="#262626" text-anchor="middle">0</text>
<text x="267.30" y="583.60" font-family='"Liberation Sans", sans-serif' font-size="24" fill="#262626" text-anchor="middle">0.5</text>
<path transform="translate(462.03,583.60) scale(24,-24)" d="M0.2875,0 L0.371,0 L0.371,0.696 L0.30,0.696 C0.25,0.61 0.17,0.555 0.094,0.525 L0.108,0.447 C0.19,0.47 0.25,0.51 0.2875,0.56 Z" fill="#262626"/>
<path transform="translate(652.52,583.60) scale(24,-24)" d="M0.2875,0 L0.371,0 L0.371,0.696 L0.30,0.696 C0.25,0.61 0.17,0.555 0.094,0.525 L0.108,0.447 C0.19,0.47 0.25,0.51 0.2875,0.56 Z" fill="#262626"/>
<text x="665.87" y="583.60" font-family='"Liberation Sans", sans-serif' font-size="24" fill="#262626">.5</text>
<text x="56.50" y="101.60" font-family='"Liberation Sans", sans-serif' font-size="24" fill="#262626" text-anchor="end">4</text>
<text x="56.50" y="284.50" font-family='"Liberation Sans", sans-serif' font-size="24" fill="#262626" text-anchor="end">3</text>
<text x="56.50" y="467.80" font-family='"Liberation Sans", sans-serif' font-size="24" fill="#262626" text-anchor="end">2</text>
<text transform="translate(68.4,26.5) scale(0.83,1)" font-family='"Liberation Sans", sans-serif' font-size="27.5" fill="#ffffff">a</text>
<text transform="translate(84.1,26.3) scale(0.82,1)" font-family='"Liberation Sans", sans-serif' font-size="27.5" fill="#ffffff">)</text>
<text x="227.50" y="618.10" font-family='"Liberation Sans", sans-serif' font-size="26.4" fill="#262626">Idler arrival time</text>
<text x="432.48" y="618.10" font-family='"Liberation Sans", sans-serif' font-size="26.4" fill="#262626" font-style="italic">T</text>
<text x="448.61" y="629.60" font-family='"Liberation Sans", sans-serif' font-size="19.2" fill="#262626" font-style="italic">i</text>
<text x="461.41" y="618.10" font-family='"Liberation Sans", sans-serif' font-size="26.4" fill="#262626">(ns)</text>
<g transform="translate(19.0,430.1) rotate(-90)">
<text x="0.00" y="0.00" font-family='"Liberation Sans", sans-serif' font-size="26.4" fill="#262626">Signal arrival time</text>
<text x="227.01" y="0.00" font-family='"Liberation Sans", sans-serif' font-size="26.4" fill="#262626" font-style="italic">T</text>
<text x="243.14" y="11.50" font-family='"Liberation Sans", sans-serif' font-size="19.2" fill="#262626" font-style="italic">s</text>
<text x="261.28" y="0.00" font-family='"Liberation Sans", sans-serif' font-size="26.4" fill="#262626">(ns)</text>
</g>
<rect x="66.0" y="644.3" width="604.2" height="195.10000000000002" fill="none" stroke="#262626" stroke-width="1.3"/>
<line x1="217.05" y1="839.4" x2="217.05" y2="832.9" stroke="#262626" stroke-width="1.3"/>
<line x1="217.05" y1="644.3" x2="217.05" y2="650.8" stroke="#262626" stroke-width="1.3"/>
<line x1="368.10" y1="839.4" x2="368.10" y2="832.9" stroke="#262626" stroke-width="1.3"/>
<line x1="368.10" y1="644.3" x2="368.10" y2="650.8" stroke="#262626" stroke-width="1.3"/>
<line x1="519.15" y1="839.4" x2="519.15" y2="832.9" stroke="#262626" stroke-width="1.3"/>
<line x1="519.15" y1="644.3" x2="519.15" y2="650.8" stroke="#262626" stroke-width="1.3"/>
<line x1="66.0" y1="774.50" x2="72.5" y2="774.50" stroke="#262626" stroke-width="1.0"/>
<line x1="670.2" y1="774.50" x2="663.7" y2="774.50" stroke="#262626" stroke-width="1.0"/>
<line x1="66.0" y1="709.50" x2="72.5" y2="709.50" stroke="#262626" stroke-width="1.0"/>
<line x1="670.2" y1="709.50" x2="663.7" y2="709.50" stroke="#262626" stroke-width="1.0"/>
<text x="66.00" y="872.80" font-family='"Liberation Sans", sans-serif' font-size="24" fill="#262626" text-anchor="middle">0</text>
<text x="217.05" y="872.80" font-family='"Liberation Sans", sans-serif' font-size="24" fill="#262626" text-anchor="middle">0.5</text>
<path transform="translate(361.43,872.80) scale(24,-24)" d="M0.2875,0 L0.371,0 L0.371,0.696 L0.30,0.696 C0.25,0.61 0.17,0.555 0.094,0.525 L0.108,0.447 C0.19,0.47 0.25,0.51 0.2875,0.56 Z" fill="#262626"/>
<path transform="translate(502.47,872.80) scale(24,-24)" d="M0.2875,0 L0.371,0 L0.371,0.696 L0.30,0.696 C0.25,0.61 0.17,0.555 0.094,0.525 L0.108,0.447 C0.19,0.47 0.25,0.51 0.2875,0.56 Z" fill="#262626"/>
<text x="515.82" y="872.80" font-family='"Liberation Sans", sans-serif' font-size="24" fill="#262626">.5</text>
<text x="670.20" y="872.80" font-family='"Liberation Sans", sans-serif' font-size="24" fill="#262626" text-anchor="middle">2</text>
<text x="56.50" y="848.80" font-family='"Liberation Sans", sans-serif' font-size="24" fill="#262626" text-anchor="end">0</text>
<path transform="translate(43.15,783.77) scale(24,-24)" d="M0.2875,0 L0.371,0 L0.371,0.696 L0.30,0.696 C0.25,0.61 0.17,0.555 0.094,0.525 L0.108,0.447 C0.19,0.47 0.25,0.51 0.2875,0.56 Z" fill="#262626"/>
<text x="56.50" y="718.73" font-family='"Liberation Sans", sans-serif' font-size="24" fill="#262626" text-anchor="end">2</text>
<text x="56.50" y="653.70" font-family='"Liberation Sans", sans-serif' font-size="24" fill="#262626" text-anchor="end">3</text>
<text x="227.50" y="907.90" font-family='"Liberation Sans", sans-serif' font-size="26.4" fill="#262626">Idler arrival time</text>
<text x="432.48" y="907.90" font-family='"Liberation Sans", sans-serif' font-size="26.4" fill="#262626" font-style="italic">T</text>
<text x="448.61" y="919.40" font-family='"Liberation Sans", sans-serif' font-size="19.2" fill="#262626" font-style="italic">i</text>
<text x="461.41" y="907.90" font-family='"Liberation Sans", sans-serif' font-size="26.4" fill="#262626">(ns)</text>
<text x="0.00" y="0.00" font-family='"Liberation Sans", sans-serif' font-size="26.4" fill="#262626" transform="translate(30.8,810.4) rotate(-90)">Idler counts</text>
<text x="67.00" y="640.20" font-family='"Liberation Sans", sans-serif' font-size="26.5" fill="#262626">×</text>
<path transform="translate(85.80,637.80) scale(24,-24)" d="M0.2875,0 L0.371,0 L0.371,0.696 L0.30,0.696 C0.25,0.61 0.17,0.555 0.094,0.525 L0.108,0.447 C0.19,0.47 0.25,0.51 0.2875,0.56 Z" fill="#262626"/>
<text x="99.15" y="637.80" font-family='"Liberation Sans", sans-serif' font-size="24" fill="#262626">0</text>
<text x="112.20" y="625.60" font-family='"Liberation Sans", sans-serif' font-size="18.4" fill="#262626">3</text>
<text transform="translate(68.5,670.0) scale(1.0,1)" font-family='"Liberation Sans", sans-serif' font-size="27.5" fill="#000000">b</text>
<text transform="translate(85.9,669.8) scale(0.8,1)" font-family='"Liberation Sans", sans-serif' font-size="27.5" fill="#000000">)</text>
<text x="269.10" y="674.20" font-family='"Liberation Serif", serif' font-size="30.5" fill="#000">Δ</text>
<text x="286.30" y="674.20" font-family='"Liberation Serif", serif' font-size="30.5" fill="#000" font-style="italic">T</text>
<text x="302.00" y="680.50" font-family='"Liberation Serif", serif' font-size="25" fill="#000" font-style="italic">i</text>
<path d="M220.7,696.3 V693.0999999999999 Q220.7,692.3 221.5,692.3 H360.7 Q361.5,692.3 361.5,693.0999999999999 V696.3 M291.0,692.3 V687.4" fill="none" stroke="#111" stroke-width="1.35" stroke-linecap="round"/>
<polyline points="66.00,822.82 96.21,820.80 126.42,819.56 156.63,817.29 186.84,814.10 217.05,805.58 247.26,793.16 277.47,777.36 307.68,763.44 337.89,756.55 368.10,757.98 398.31,773.07 428.52,787.37 458.73,797.19 488.94,805.58 519.15,811.11 549.36,814.10 579.57,817.48 609.78,820.41 639.99,822.10 670.20,823.40" fill="none" stroke="#d95319" stroke-width="3.9" stroke-linejoin="round" stroke-dasharray="11.4 12.6"/>
<polyline points="66.00,817.09 96.21,807.86 126.42,781.26 156.63,754.47 186.84,721.75 217.05,703.74 247.26,710.96 277.47,732.94 307.68,761.56 337.89,780.54 368.10,794.85 398.31,806.88 428.52,811.18 458.73,815.01 488.94,816.96 519.15,820.87 549.36,818.72 579.57,821.71 609.78,823.01 639.99,824.18 670.20,824.70" fill="none" stroke="#d95319" stroke-width="3.9" stroke-linejoin="round"/>
<rect x="448.4" y="657.4" width="205.5" height="94.0" fill="#fff" stroke="#262626" stroke-width="1.3"/>
<line x1="454.1" y1="682.7" x2="514.2" y2="682.7" stroke="#d95319" stroke-width="3.9"/>
<line x1="454.1" y1="727.4" x2="514.2" y2="727.4" stroke="#d95319" stroke-width="3.9" stroke-dasharray="12.1 11.9"/>
<text x="525.70" y="690.00" font-family='"Liberation Sans", sans-serif' font-size="21" fill="#262626" font-style="italic">T</text>
<text x="538.90" y="700.80" font-family='"Liberation Sans", sans-serif' font-size="16.5" fill="#262626" font-style="italic">s</text>
<text x="547.40" y="680.80" font-family='"Liberation Sans", sans-serif' font-size="17.3" fill="#262626">(</text>
<path transform="translate(553.16,680.80) scale(17.3,-17.3)" d="M0.2875,0 L0.371,0 L0.371,0.696 L0.30,0.696 C0.25,0.61 0.17,0.555 0.094,0.525 L0.108,0.447 C0.19,0.47 0.25,0.51 0.2875,0.56 Z" fill="#262626"/>
<text x="562.78" y="680.80" font-family='"Liberation Sans", sans-serif' font-size="17.3" fill="#262626">)</text>
<text x="576.00" y="690.00" font-family='"Liberation Sans", sans-serif' font-size="21.3" fill="#262626">=</text>
<text x="594.20" y="690.00" font-family='"Liberation Sans", sans-serif' font-size="21.3" fill="#262626">3.5ns</text>
<text x="525.70" y="734.20" font-family='"Liberation Sans", sans-serif' font-size="21" fill="#262626" font-style="italic">T</text>
<text x="538.90" y="745.00" font-family='"Liberation Sans", sans-serif' font-size="16.5" fill="#262626" font-style="italic">s</text>
<text x="547.40" y="725.00" font-family='"Liberation Sans", sans-serif' font-size="17.3" fill="#262626">(2)</text>
<text x="576.00" y="734.20" font-family='"Liberation Sans", sans-serif' font-size="21.3" fill="#262626">=</text>
<text x="594.20" y="734.20" font-family='"Liberation Sans", sans-serif' font-size="21.3" fill="#262626">2.5ns</text>
<rect x="66.0" y="963.6" width="604.2" height="193.39999999999998" fill="none" stroke="#262626" stroke-width="1.3"/>
<line x1="152.31" y1="1157.0" x2="152.31" y2="1150.5" stroke="#262626" stroke-width="1.3"/>
<line x1="152.31" y1="963.6" x2="152.31" y2="970.1" stroke="#262626" stroke-width="1.3"/>
<line x1="238.63" y1="1157.0" x2="238.63" y2="1150.5" stroke="#262626" stroke-width="1.3"/>
<line x1="238.63" y1="963.6" x2="238.63" y2="970.1" stroke="#262626" stroke-width="1.3"/>
<line x1="324.94" y1="1157.0" x2="324.94" y2="1150.5" stroke="#262626" stroke-width="1.3"/>
<line x1="324.94" y1="963.6" x2="324.94" y2="970.1" stroke="#262626" stroke-width="1.3"/>
<line x1="411.26" y1="1157.0" x2="411.26" y2="1150.5" stroke="#262626" stroke-width="1.3"/>
<line x1="411.26" y1="963.6" x2="411.26" y2="970.1" stroke="#262626" stroke-width="1.3"/>
<line x1="497.57" y1="1157.0" x2="497.57" y2="1150.5" stroke="#262626" stroke-width="1.3"/>
<line x1="497.57" y1="963.6" x2="497.57" y2="970.1" stroke="#262626" stroke-width="1.3"/>
<line x1="583.89" y1="1157.0" x2="583.89" y2="1150.5" stroke="#262626" stroke-width="1.3"/>
<line x1="583.89" y1="963.6" x2="583.89" y2="970.1" stroke="#262626" stroke-width="1.3"/>
<line x1="66.0" y1="1092.50" x2="72.5" y2="1092.50" stroke="#262626" stroke-width="1.0"/>
<line x1="670.2" y1="1092.50" x2="663.7" y2="1092.50" stroke="#262626" stroke-width="1.0"/>
<line x1="66.0" y1="1028.50" x2="72.5" y2="1028.50" stroke="#262626" stroke-width="1.0"/>
<line x1="670.2" y1="1028.50" x2="663.7" y2="1028.50" stroke="#262626" stroke-width="1.0"/>
<path transform="translate(49.32,1190.90) scale(24,-24)" d="M0.2875,0 L0.371,0 L0.371,0.696 L0.30,0.696 C0.25,0.61 0.17,0.555 0.094,0.525 L0.108,0.447 C0.19,0.47 0.25,0.51 0.2875,0.56 Z" fill="#262626"/>
<text x="62.67" y="1190.90" font-family='"Liberation Sans", sans-serif' font-size="24" fill="#262626">.5</text>
<text x="152.31" y="1190.90" font-family='"Liberation Sans", sans-serif' font-size="24" fill="#262626" text-anchor="middle">2</text>
<text x="238.63" y="1190.90" font-family='"Liberation Sans", sans-serif' font-size="24" fill="#262626" text-anchor="middle">2.5</text>
<text x="324.94" y="1190.90" font-family='"Liberation Sans", sans-serif' font-size="24" fill="#262626" text-anchor="middle">3</text>
<text x="411.26" y="1190.90" font-family='"Liberation Sans", sans-serif' font-size="24" fill="#262626" text-anchor="middle">3.5</text>
<text x="497.57" y="1190.90" font-family='"Liberation Sans", sans-serif' font-size="24" fill="#262626" text-anchor="middle">4</text>
<text x="583.89" y="1190.90" font-family='"Liberation Sans", sans-serif' font-size="24" fill="#262626" text-anchor="middle">4.5</text>
<text x="670.20" y="1190.90" font-family='"Liberation Sans", sans-serif' font-size="24" fill="#262626" text-anchor="middle">5</text>
<text x="56.50" y="1166.40" font-family='"Liberation Sans", sans-serif' font-size="24" fill="#262626" text-anchor="end">0</text>
<path transform="translate(43.15,1101.93) scale(24,-24)" d="M0.2875,0 L0.371,0 L0.371,0.696 L0.30,0.696 C0.25,0.61 0.17,0.555 0.094,0.525 L0.108,0.447 C0.19,0.47 0.25,0.51 0.2875,0.56 Z" fill="#262626"/>
<text x="56.50" y="1037.47" font-family='"Liberation Sans", sans-serif' font-size="24" fill="#262626" text-anchor="end">2</text>
<text x="56.50" y="973.00" font-family='"Liberation Sans", sans-serif' font-size="24" fill="#262626" text-anchor="end">3</text>
<text x="213.90" y="1225.80" font-family='"Liberation Sans", sans-serif' font-size="26.4" fill="#262626">Signal arrival time</text>
<text x="440.91" y="1225.80" font-family='"Liberation Sans", sans-serif' font-size="26.4" fill="#262626" font-style="italic">T</text>
<text x="457.04" y="1237.30" font-family='"Liberation Sans", sans-serif' font-size="19.2" fill="#262626" font-style="italic">s</text>
<text x="475.18" y="1225.80" font-family='"Liberation Sans", sans-serif' font-size="26.4" fill="#262626">(ns)</text>
<text x="0.00" y="0.00" font-family='"Liberation Sans", sans-serif' font-size="26.4" fill="#262626" transform="translate(30.9,1138.2) rotate(-90)">Signal counts</text>
<text x="67.00" y="960.00" font-family='"Liberation Sans", sans-serif' font-size="26.5" fill="#262626">×</text>
<path transform="translate(85.80,957.60) scale(24,-24)" d="M0.2875,0 L0.371,0 L0.371,0.696 L0.30,0.696 C0.25,0.61 0.17,0.555 0.094,0.525 L0.108,0.447 C0.19,0.47 0.25,0.51 0.2875,0.56 Z" fill="#262626"/>
<text x="99.15" y="957.60" font-family='"Liberation Sans", sans-serif' font-size="24" fill="#262626">0</text>
<text x="112.20" y="945.40" font-family='"Liberation Sans", sans-serif' font-size="18.4" fill="#262626">3</text>
<text transform="translate(67.8,990.1) scale(0.93,1)" font-family='"Liberation Sans", sans-serif' font-size="27.5" fill="#000000">c</text>
<text transform="translate(82.7,989.7) scale(0.75,1)" font-family='"Liberation Sans", sans-serif' font-size="27.5" fill="#000000">)</text>
<text x="305.90" y="999.80" font-family='"Liberation Serif", serif' font-size="30.5" fill="#000">Δ</text>
<text x="323.70" y="999.80" font-family='"Liberation Serif", serif' font-size="30.5" fill="#000" font-style="italic">T</text>
<text x="338.80" y="1005.80" font-family='"Liberation Serif", serif' font-size="25" fill="#000" font-style="italic">s</text>
<path d="M249.5,1028.5 V1025.3 Q249.5,1024.5 250.3,1024.5 H403.7 Q404.5,1024.5 404.5,1025.3 V1028.5 M327.1,1024.5 V1020.1" fill="none" stroke="#111" stroke-width="1.35" stroke-linecap="round"/>
<polyline points="66.00,1139.59 83.26,1135.73 100.53,1133.02 117.79,1127.99 135.05,1122.06 152.31,1116.19 169.58,1111.29 186.84,1103.69 204.10,1098.27 221.37,1092.86 238.63,1090.60 255.89,1089.83 273.15,1092.86 290.42,1098.59 307.68,1104.85 324.94,1109.87 342.21,1114.77 359.47,1119.35 376.73,1121.03 393.99,1122.83 411.26,1125.09 428.52,1124.44 445.78,1127.99 463.05,1129.80 480.31,1132.05 497.57,1135.08 514.83,1140.11 532.10,1142.37 549.36,1144.11 566.62,1145.40 583.89,1146.62 601.15,1148.10 618.41,1149.33 635.67,1150.17 652.94,1150.68 670.20,1151.13" fill="none" stroke="#66d70c" stroke-width="3.9" stroke-linejoin="round" stroke-dasharray="11.4 12.6"/>
<polyline points="66.00,1140.95 83.26,1139.47 100.53,1135.02 117.79,1131.92 135.05,1127.41 152.31,1125.67 169.58,1127.41 186.84,1123.67 204.10,1128.76 221.37,1129.60 238.63,1133.53 255.89,1132.95 273.15,1129.02 290.42,1129.73 307.68,1121.74 324.94,1108.46 342.21,1091.70 359.47,1071.00 376.73,1051.73 393.99,1044.05 411.26,1040.19 428.52,1054.05 445.78,1067.97 463.05,1087.57 480.31,1104.72 497.57,1120.25 514.83,1125.67 532.10,1132.18 549.36,1138.05 566.62,1139.98 583.89,1141.98 601.15,1145.59 618.41,1145.01 635.67,1147.33 652.94,1148.43 670.20,1150.23" fill="none" stroke="#66d70c" stroke-width="3.9" stroke-linejoin="round"/>
<rect x="453.0" y="977.1" width="201.39999999999998" height="94.10000000000002" fill="#fff" stroke="#262626" stroke-width="1.3"/>
<line x1="458.5" y1="1001.8" x2="518.7" y2="1001.8" stroke="#66d70c" stroke-width="3.9"/>
<line x1="458.5" y1="1047.0" x2="518.7" y2="1047.0" stroke="#66d70c" stroke-width="3.9" stroke-dasharray="12.1 11.9"/>
<text x="530.00" y="1009.40" font-family='"Liberation Sans", sans-serif' font-size="21" fill="#262626" font-style="italic">T</text>
<text x="543.20" y="1020.20" font-family='"Liberation Sans", sans-serif' font-size="16.5" fill="#262626" font-style="italic">i</text>
<text x="546.90" y="1000.20" font-family='"Liberation Sans", sans-serif' font-size="17.3" fill="#262626">(</text>
<path transform="translate(552.66,1000.20) scale(17.3,-17.3)" d="M0.2875,0 L0.371,0 L0.371,0.696 L0.30,0.696 C0.25,0.61 0.17,0.555 0.094,0.525 L0.108,0.447 C0.19,0.47 0.25,0.51 0.2875,0.56 Z" fill="#262626"/>
<text x="562.28" y="1000.20" font-family='"Liberation Sans", sans-serif' font-size="17.3" fill="#262626">)</text>
<text x="576.00" y="1009.40" font-family='"Liberation Sans", sans-serif' font-size="21.3" fill="#262626">=</text>
<text x="594.20" y="1009.40" font-family='"Liberation Sans", sans-serif' font-size="21.3" fill="#262626">0.5ns</text>
<text x="530.00" y="1053.60" font-family='"Liberation Sans", sans-serif' font-size="21" fill="#262626" font-style="italic">T</text>
<text x="543.20" y="1064.40" font-family='"Liberation Sans", sans-serif' font-size="16.5" fill="#262626" font-style="italic">i</text>
<text x="546.90" y="1044.40" font-family='"Liberation Sans", sans-serif' font-size="17.3" fill="#262626">(2)</text>
<text x="576.00" y="1053.60" font-family='"Liberation Sans", sans-serif' font-size="21.3" fill="#262626">=</text>
<path transform="translate(594.20,1053.60) scale(21.3,-21.3)" d="M0.2875,0 L0.371,0 L0.371,0.696 L0.30,0.696 C0.25,0.61 0.17,0.555 0.094,0.525 L0.108,0.447 C0.19,0.47 0.25,0.51 0.2875,0.56 Z" fill="#262626"/>
<text x="606.05" y="1053.60" font-family='"Liberation Sans", sans-serif' font-size="21.3" fill="#262626">.3ns</text>
</svg>
</body></html>
